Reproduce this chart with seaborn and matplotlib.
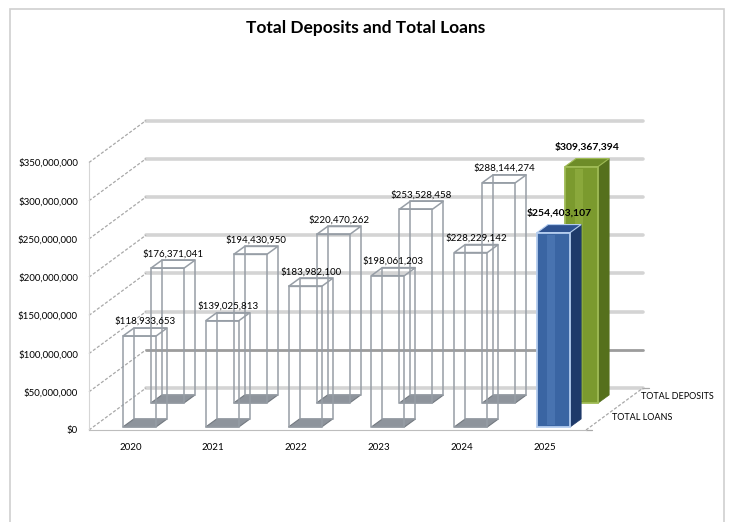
import matplotlib
matplotlib.use("Agg")
import matplotlib.pyplot as plt
import matplotlib.transforms as mtransforms
from matplotlib.patches import Polygon, Rectangle
from matplotlib.lines import Line2D
import seaborn as sns
import pandas as pd

# Data
years = ["2020", "2021", "2022", "2023", "2024", "2025"]
total_loans = [118933653, 139025813, 183982100, 198061203, 228229142, 254403107]
total_deposits = [176371041, 194430950, 220470262, 253528458, 288144274, 309367394]
y_ticks = [0, 50000000, 100000000, 150000000, 200000000, 250000000, 300000000, 350000000]
highlight = "2025"

df = pd.DataFrame({"year": years, "TOTAL LOANS": total_loans, "TOTAL DEPOSITS": total_deposits})

sns.set_style("white")
plt.rcParams["font.family"] = ["Lato", "DejaVu Sans"]

W, H, DPI = 731, 522, 100
fig = plt.figure(figsize=(W / DPI, H / DPI), dpi=DPI)

# front plane of the fake 3d chart (pixels from top-left)
left, right, base, top = 89, 586, 430, 162.5
ax = fig.add_axes([left / W, 1 - base / H, (right - left) / W, (base - top) / H])

WALL = (57, 42)       # depth of the whole box, px right / px up
BAR_D = (11, 8)       # depth of one column
ROW = {"TOTAL LOANS": (9, 3), "TOTAL DEPOSITS": (37, 27)}
SOLID = {
    "TOTAL LOANS": dict(front="#3a65a3", shine="#5b85c2", side="#1e3a6a", top="#2e5290", edge="#b4cdef"),
    "TOTAL DEPOSITS": dict(front="#7b9a2e", shine="#9dbb4c", side="#55701c", top="#6e8c28", edge="#9fbb55"),
}
wire = "#979ea6"
ident = mtransforms.IdentityTransform()


def shifted(dx, dy):
    return ax.transData + mtransforms.ScaledTranslation(dx / DPI, dy / DPI, fig.dpi_scale_trans)


def px(x, y, off=(0, 0)):
    X, Y = ax.transData.transform((x, y))
    return (X + off[0], Y + off[1])


def dep(p, d=BAR_D):
    return (p[0] + d[0], p[1] + d[1])


# draw the columns, back row first
for k, name in enumerate(["TOTAL DEPOSITS", "TOTAL LOANS"]):
    start = len(ax.patches)
    sns.barplot(data=df, x="year", y=name, ax=ax, width=0.4, color="white", errorbar=None)
    ax.set_xlim(-0.5, len(years) - 0.5)
    ax.set_ylim(0, y_ticks[-1])
    bars = ax.patches[start:]
    ox, oy = ROW[name]
    z = 2 + k
    for yr, bar, v in zip(years, bars, df[name]):
        x0, w, h = bar.get_x(), bar.get_width(), bar.get_height()
        bl, br = px(x0, 0, (ox, oy)), px(x0 + w, 0, (ox, oy))
        tl, tr = px(x0, h, (ox, oy)), px(x0 + w, h, (ox, oy))
        bar.set_transform(shifted(ox, oy))
        bar.set_clip_on(False)
        if yr == highlight:
            c = SOLID[name]
            ax.add_artist(Polygon([br, tr, dep(tr), dep(br)], closed=True, transform=ident,
                                  facecolor=c["side"], edgecolor=c["side"], lw=0.5, zorder=z + 0.1, clip_on=False))
            ax.add_artist(Polygon([tl, tr, dep(tr), dep(tl)], closed=True, transform=ident,
                                  facecolor=c["top"], edgecolor=c["edge"], lw=0.8, zorder=z + 0.2, clip_on=False))
            bar.set_facecolor(c["front"])
            bar.set_edgecolor(c["edge"])
            bar.set_linewidth(1.3)
            bar.set_zorder(z + 0.3)
            # soft highlight down the middle of the front face
            fw = tr[0] - tl[0]
            ax.add_artist(Polygon([(bl[0] + fw * 0.3, bl[1] + 2), (bl[0] + fw * 0.55, bl[1] + 2),
                                   (tl[0] + fw * 0.55, tl[1] - 2), (tl[0] + fw * 0.3, tl[1] - 2)],
                                  closed=True, transform=ident, facecolor=c["shine"], edgecolor="none",
                                  alpha=0.45, zorder=z + 0.35, clip_on=False))
            weight, fs, gap = "bold", 7.5, 7
        else:
            ax.add_artist(Polygon([bl, br, dep(br), dep(bl)], closed=True, transform=ident,
                                  facecolor="#8e949c", edgecolor="#737980", lw=0.8, zorder=z, clip_on=False))
            ax.add_artist(Polygon([dep(bl), dep(br), dep(tr), dep(tl)], closed=True, transform=ident,
                                  facecolor="none", edgecolor=wire, lw=1.1, zorder=z + 0.1, clip_on=False))
            ax.add_artist(Polygon([tl, tr, dep(tr), dep(tl)], closed=True, transform=ident,
                                  facecolor="none", edgecolor=wire, lw=1.1, zorder=z + 0.2, clip_on=False))
            bar.set_facecolor("none")
            bar.set_edgecolor(wire)
            bar.set_linewidth(1.1)
            bar.set_zorder(z + 0.3)
            weight, fs, gap = "normal", 7, 2
        lx = (tl[0] + tr[0]) / 2 + BAR_D[0] / 2
        ly = tl[1] + BAR_D[1] + gap
        ax.text(lx, ly, f"${v:,.0f}", transform=ident, ha="center", va="bottom",
                fontsize=fs, fontweight=weight, color="black", zorder=6)

ax.set_xlabel("")
ax.set_ylabel("")

# back wall gridlines and side-wall diagonals
for v in y_ticks:
    a = px(-0.5, v)
    b = px(len(years) - 0.5, v)
    col, lw = ("#9c9c9c", 2.0) if v == 50000000 else ("#d4d4d4", 2.6)
    ax.add_artist(Line2D([a[0] + WALL[0], b[0] + WALL[0]], [a[1] + WALL[1], b[1] + WALL[1]],
                         transform=ident, color=col, lw=lw, zorder=0.5, clip_on=False))
    ax.add_artist(Line2D([a[0], a[0] + WALL[0]], [a[1], a[1] + WALL[1]], transform=ident,
                         color="#a8a8a8", lw=0.9, ls=(0, (2.5, 1.5)), zorder=0.6, clip_on=False))

# depth axis on the right side of the floor
f0 = px(len(years) - 0.5, 0)
ax.add_artist(Line2D([f0[0], f0[0] + WALL[0]], [f0[1], f0[1] + WALL[1]], transform=ident,
                     color="#a8a8a8", lw=0.9, ls=(0, (2.5, 1.5)), zorder=0.6, clip_on=False))
for frac in (0, 1):
    p = (f0[0] + WALL[0] * frac, f0[1] + WALL[1] * frac)
    ax.add_artist(Line2D([p[0], p[0] + 6], [p[1], p[1]], transform=ident,
                         color="#a8a8a8", lw=0.9, zorder=0.6, clip_on=False))
for name, frac in (("TOTAL LOANS", 0.3), ("TOTAL DEPOSITS", 0.8)):
    ax.text(f0[0] + WALL[0] * frac + 9, f0[1] + WALL[1] * frac, name, transform=ident,
            ha="left", va="center", fontsize=6.5, color="black")

# axes styling
ax.set_yticks(y_ticks)
ax.set_yticklabels([f"${v:,.0f}" for v in y_ticks])
ax.tick_params(axis="y", length=4, width=0.8, color="#8c8c8c", pad=4, labelsize=7, labelcolor="black")
ax.set_xticks(range(len(years)))
ax.set_xticklabels(years)
ax.tick_params(axis="x", which="major", length=0, pad=9, labelsize=7, labelcolor="black")
ax.set_xticks([i + 0.5 for i in range(len(years))], minor=True)
ax.tick_params(axis="x", which="minor", length=4, width=0.8, color="#8c8c8c")
sns.despine(ax=ax, top=True, right=True)
ax.spines["left"].set_color("#d6d6d6")
ax.spines["bottom"].set_color("#bdbdbd")
ax.patch.set_alpha(0)

fig.text(366 / W, 1 - 28 / H, "Total Deposits and Total Loans", ha="center", va="center",
         fontsize=12.5, fontweight="bold", color="black")

# chart border
fig.add_artist(Rectangle((10 / W, -0.02), 714 / W, 1 - 9 / H + 0.02, transform=fig.transFigure,
                         fill=False, edgecolor="#cfcfcf", lw=1.2))

fig.savefig("out.png", dpi=DPI)
